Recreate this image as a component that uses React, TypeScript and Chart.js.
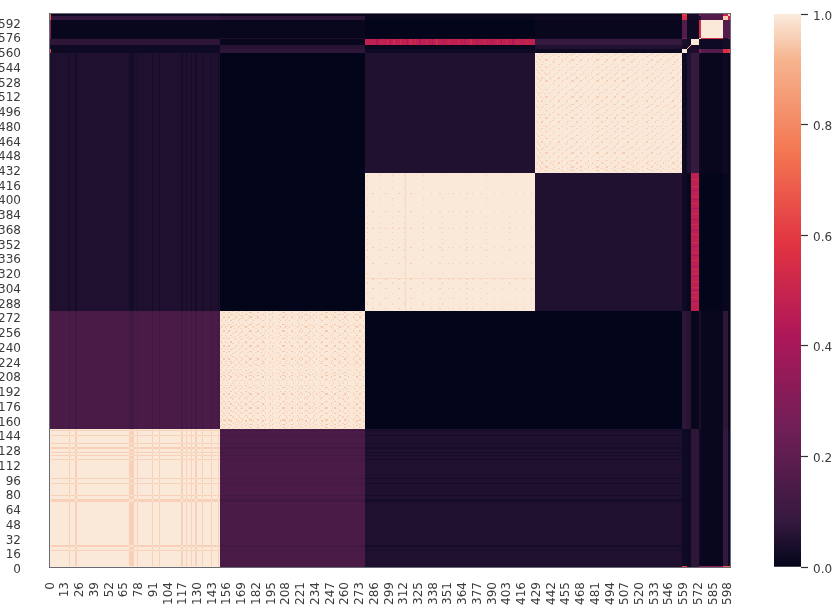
import React, { useEffect, useRef } from "react";
import { Chart, registerables } from "chart.js";

Chart.register(...registerables);

const FONT = "'DejaVu Sans', sans-serif";
const TEXT = "#3a3a3a";

const xTickLabels = [0,13,26,39,52,65,78,91,104,117,130,143,156,169,182,195,208,221,234,247,260,273,286,299,312,325,338,351,364,377,390,403,416,429,442,455,468,481,494,507,520,533,546,559,572,585,598];
const yTickLabels = [0,16,32,48,64,80,96,112,128,144,160,176,192,208,224,240,256,272,288,304,320,336,352,368,384,400,416,432,448,464,480,496,512,528,544,560,576,592];

// colour ramp of the colour bar
const rampStops = [0, 0.083, 0.25, 0.417, 0.583, 0.75, 0.917, 1];
const rampColors = [[3,5,26],[53,25,62],[112,31,87],[173,23,89],[225,51,66],[243,118,81],[246,180,143],[250,235,221]];

// cluster edges along both axes of the matrix
const groupEdges = [0,1,150,278,428,558,562,566,573,574,594,598,600];
// mean value of every pair of clusters (symmetric)
const groupValues = [
  [1.00,0.995,0.145,0.045,0.045,0.60,0.03,0.07,0.30,0.30,0.70,0.70],
  [0.995,0.995,0.145,0.045,0.045,0.02,0.02,0.07,0.02,0.01,0.08,0.02],
  [0.145,0.145,0.995,0.00,0.00,0.07,0.06,0.01,0.04,0.01,0.07,0.01],
  [0.045,0.045,0.00,0.995,0.05,0.02,0.01,0.47,0.01,0.00,0.01,0.01],
  [0.045,0.045,0.00,0.05,0.995,0.02,0.05,0.085,0.02,0.01,0.02,0.01],
  [0.60,0.02,0.07,0.02,0.02,1.00,0.03,0.04,0.30,0.17,0.55,0.60],
  [0.03,0.02,0.06,0.01,0.05,0.03,0.05,0.03,0.03,0.02,0.03,0.03],
  [0.07,0.07,0.01,0.47,0.085,0.04,0.03,0.995,0.03,0.02,0.03,0.03],
  [0.30,0.02,0.04,0.01,0.02,0.30,0.03,0.03,1.00,0.55,0.05,0.30],
  [0.30,0.01,0.01,0.00,0.01,0.17,0.02,0.02,0.55,0.995,0.17,0.17],
  [0.70,0.08,0.07,0.01,0.02,0.55,0.03,0.03,0.05,0.17,0.95,0.50],
  [0.70,0.02,0.01,0.01,0.01,0.60,0.03,0.03,0.30,0.17,0.50,1.00],
];

// weak rows/columns of the first cluster: [start, end]
const firstStripes = [[17,18],[22,24],[70,74],[77,78],[90,91],[96,97],[116,117],[120,121],[124,125],[128,130],[134,135],[142,143],[148,149]];
const stripeValue = 0.96;
const stripeCross = 0.985;
const stripeDarkB = 0.115;
const stripeDarkCD = 0.03;

// rows/columns that carry the speckle, in loose families per cluster
const secondA = [151,154,159,160,166,172,173,179,187,188,194,203,207,211,218,225,226,233,239,240,248,255,256,263,270,271,276];
const secondB = [153,157,158,164,169,176,177,183,190,196,205,206,213,220,222,229,235,243,244,251,259,260,267,273];
const secondC = [150,155,162,163,168,175,181,182,186,192,199,201,209,216,221,228,231,237,242,249,253,261,265,268,274,277];
const secondD = [152,156,161,167,171,174,178,185,189,193,197,202,208,214,219,224,227,232,238,246,250,254,258,262,269,272];
const thirdA = [284,285,296,307,308,318,343,344,355,372,392,411,424];
const thirdB = [280,291,302,312,329,346,367,385,405];
const thirdC = [307,336,343,351,362,367,368,379,399,418];
const fourthA = [430,433,434,441,448,449,456,464,465,472,478,486,487,495,501,509,510,518,526,527,534,541,549,550,556];
const fourthB = [432,437,438,445,452,460,461,468,475,482,483,491,498,505,506,514,522,530,531,538,545,553];
const fourthC = [429,435,443,444,451,458,459,467,474,480,489,490,497,504,512,513,520,528,535,536,543,551,557];
const fourthD = [431,436,440,447,454,455,463,470,477,484,493,499,500,508,516,517,524,532,539,547,548,554];
const speckleStrong = 0.945;
const speckleMild = 0.965;
const speckleFourthStrong = 0.955;
const speckleFourthMild = 0.972;
const speckleThird = 0.955;

// one weak row in the third cluster
const thirdRow = [313];

// brighter rows of the crimson band (third cluster x cluster 566-573)
const bandBright = [292,297,303,309,318,322,332,341,352,360,371,383,394,402,412,420];
const bandBrightValue = 0.53;
const bandDim = [288,300,315,326,337,347,365,377,389,398,408];
const bandDimValue = 0.42;

// the diagonal of the small cluster between 562 and 566, and the corner
const diagonalCells = [562,563,564,565,598,599];
const diagonalValue = 0.9;

type Cell = { x: number; y: number; x2: number; y2: number; v: number };

const cells: Cell[] = [];
groupValues.forEach((row, r) => {
  row.forEach((v, c) => {
    cells.push({ x: groupEdges[c], x2: groupEdges[c + 1], y: groupEdges[r], y2: groupEdges[r + 1], v });
  });
});
const both = (a: number, b: number, c: number, d: number, v: number) => {
  cells.push({ x: a, x2: b, y: c, y2: d, v });
  cells.push({ x: c, x2: d, y: a, y2: b, v });
};
firstStripes.forEach(([a, b]) => {
  both(a, b, 1, 150, stripeValue);
  both(a, b, 150, 278, stripeDarkB);
  both(a, b, 278, 558, stripeDarkCD);
});
firstStripes.forEach(([a, b]) => {
  firstStripes.forEach(([c, d]) => {
    cells.push({ x: a, x2: b, y: c, y2: d, v: stripeCross });
  });
});
const cross = (p: number[], q: number[], value: number) => {
  p.forEach((a) => q.forEach((b) => both(a, a + 1, b, b + 1, value)));
};
cross(secondC, secondD, speckleMild);
cross(secondA, secondB, speckleStrong);
cross(thirdA, thirdB, speckleThird);
cross(thirdB, thirdC, speckleThird);
cross(fourthC, fourthD, speckleFourthMild);
cross(fourthA, fourthB, speckleFourthStrong);
thirdRow.forEach((a) => both(a, a + 1, 278, 428, 0.975));
bandBright.forEach((a) => both(a, a + 1, 566, 573, bandBrightValue));
bandDim.forEach((a) => both(a, a + 1, 566, 573, bandDimValue));
diagonalCells.forEach((a) => cells.push({ x: a, x2: a + 1, y: a, y2: a + 1, v: diagonalValue }));

const rampColor = (v: number) => {
  let i = 0;
  while (i < rampStops.length - 2 && v > rampStops[i + 1]) i++;
  const t = Math.max(0, Math.min(1, (v - rampStops[i]) / (rampStops[i + 1] - rampStops[i])));
  const a = rampColors[i];
  const b = rampColors[i + 1];
  return `rgb(${a.map((p, k) => Math.round(p + (b[k] - p) * t)).join(",")})`;
};

const heatPlugin = {
  id: "heat",
  beforeDatasetsDraw(chart: any) {
    const { ctx, scales, chartArea } = chart;
    const data = chart.data.datasets[0].data as Cell[];
    ctx.save();
    data.forEach((d) => {
      const x0 = Math.round(scales.x.getPixelForValue(d.x));
      const x1 = Math.round(scales.x.getPixelForValue(d.x2));
      const y0 = Math.round(scales.y.getPixelForValue(d.y2));
      const y1 = Math.round(scales.y.getPixelForValue(d.y));
      ctx.fillStyle = rampColor(d.v);
      ctx.fillRect(x0, y0, Math.max(1, x1 - x0), Math.max(1, y1 - y0));
    });
    ctx.strokeStyle = "rgba(80,80,90,0.85)";
    ctx.lineWidth = 1;
    ctx.strokeRect(chartArea.left - 0.5, chartArea.top - 0.5, chartArea.width + 1, chartArea.height + 1);
    ctx.restore();
  },
};

const tickFont = { family: FONT, size: 12 };

export default function App() {
  const mainRef = useRef<HTMLCanvasElement>(null);
  const barRef = useRef<HTMLCanvasElement>(null);

  useEffect(() => {
    const main = new Chart(mainRef.current!, {
      type: "scatter",
      data: { datasets: [{ data: cells as any, pointRadius: 0, pointHoverRadius: 0 }] },
      plugins: [heatPlugin],
      options: {
        animation: false,
        responsive: false,
        events: [],
        layout: { padding: { left: 0, right: 105, top: 14, bottom: 0 } },
        plugins: { legend: { display: false }, tooltip: { enabled: false } },
        scales: {
          x: {
            type: "linear",
            min: 0,
            max: 600,
            grid: { display: false },
            border: { display: false },
            afterBuildTicks: (s: any) => {
              s.ticks = xTickLabels.map((v) => ({ value: v + 0.5 }));
            },
            afterFit: (s: any) => {
              s.height = 43;
              s.paddingLeft = 0;
              s.paddingRight = 0;
            },
            ticks: {
              autoSkip: false,
              minRotation: 90,
              maxRotation: 90,
              padding: 7,
              color: TEXT,
              font: tickFont,
              callback: (v: any) => String(v - 0.5),
            },
          },
          y: {
            type: "linear",
            min: 0,
            max: 600,
            grid: { display: false },
            border: { display: false },
            afterBuildTicks: (s: any) => {
              s.ticks = yTickLabels.map((v) => ({ value: v + 0.5 }));
            },
            afterFit: (s: any) => {
              s.width = 50;
              s.paddingTop = 0;
              s.paddingBottom = 0;
            },
            ticks: {
              autoSkip: false,
              padding: 21,
              labelOffset: 3.5,
              color: TEXT,
              font: tickFont,
              callback: (v: any) => String(v - 0.5),
            },
          },
        },
      },
    });

    const bar = new Chart(barRef.current!, {
      type: "bar",
      data: {
        labels: [""],
        datasets: [
          {
            data: [[0, 1]] as any,
            barPercentage: 1,
            categoryPercentage: 1,
            backgroundColor: (c: any) => {
              const area = c.chart.chartArea;
              if (!area) return "#000";
              const g = c.chart.ctx.createLinearGradient(0, area.bottom, 0, area.top);
              rampStops.forEach((s, i) => g.addColorStop(s, `rgb(${rampColors[i].join(",")})`));
              return g;
            },
          },
        ],
      },
      options: {
        animation: false,
        responsive: false,
        events: [],
        layout: { padding: { left: 774, right: 0, top: 14, bottom: 43 } },
        plugins: { legend: { display: false }, tooltip: { enabled: false } },
        scales: {
          x: { display: false },
          y: {
            position: "right",
            min: 0,
            max: 1,
            afterFit: (s: any) => {
              s.width = 34;
              s.paddingTop = 0;
              s.paddingBottom = 0;
            },
            border: { display: false },
            grid: { drawOnChartArea: false, drawTicks: true, tickLength: 7, tickColor: "#333333", tickWidth: 1.2 },
            ticks: {
              stepSize: 0.2,
              padding: 5,
              labelOffset: 2.5,
              color: TEXT,
              font: tickFont,
              callback: (v: any) => Number(v).toFixed(1),
            },
          },
        },
      },
    });
    return () => {
      main.destroy();
      bar.destroy();
    };
  }, []);

  const canvasStyle: React.CSSProperties = { position: "absolute", left: 0, top: 0, filter: "blur(0.45px)" };
  return (
    <div style={{ position: "absolute", left: 0, top: 0, width: 835, height: 610, background: "#fff", overflow: "hidden" }}>
      <canvas ref={mainRef} width={835} height={610} style={canvasStyle} />
      <canvas ref={barRef} width={835} height={610} style={canvasStyle} />
    </div>
  );
}
